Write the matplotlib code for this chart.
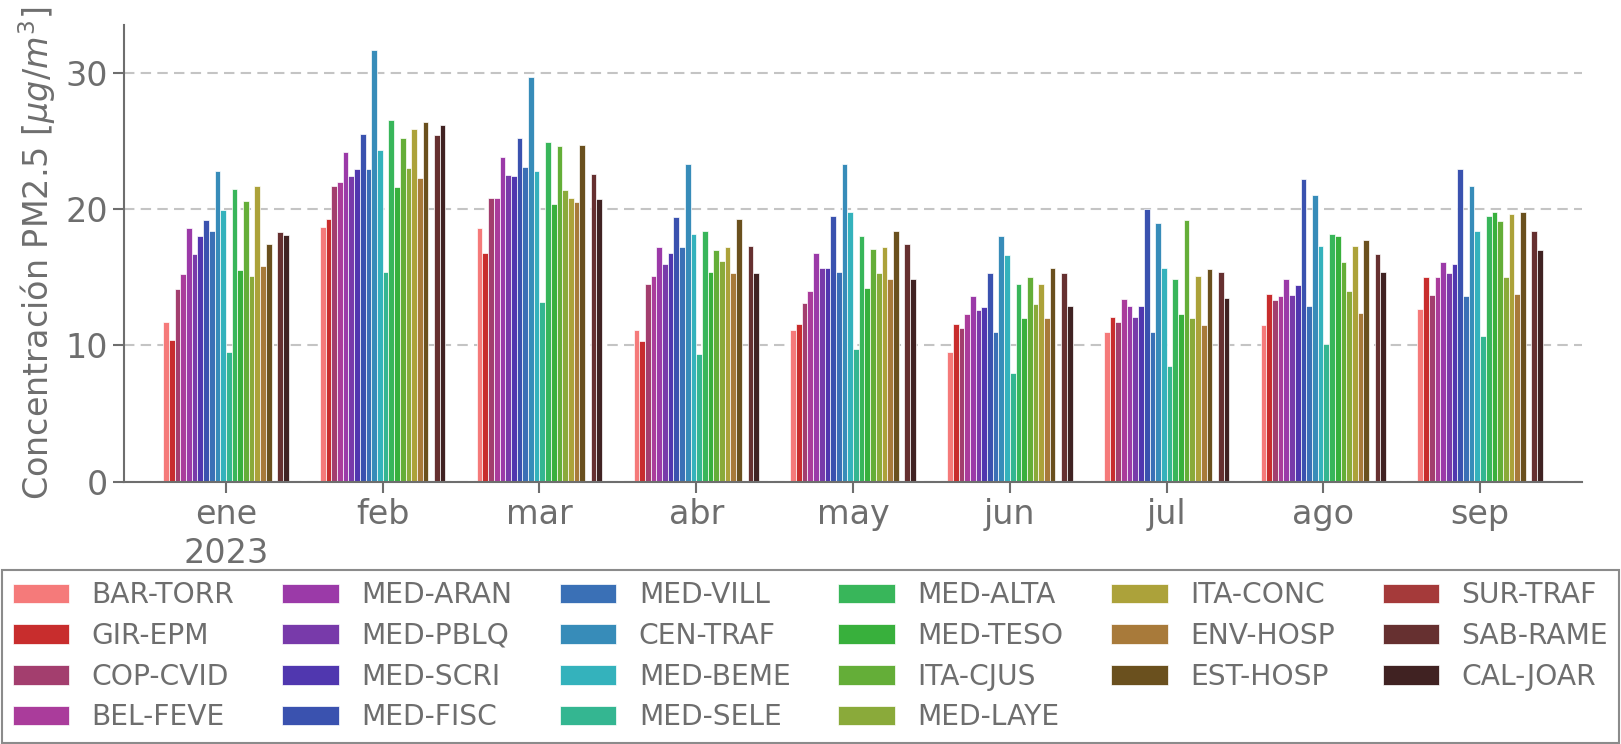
import matplotlib
matplotlib.use("Agg")
import matplotlib.pyplot as plt
import numpy as np

# Monthly PM2.5 mean per station, ene-sep 2023
months = ["ene\n2023", "feb", "mar", "abr", "may", "jun", "jul", "ago", "sep"]

stations = ["BAR-TORR", "GIR-EPM", "COP-CVID", "BEL-FEVE", "MED-ARAN", "MED-PBLQ",
            "MED-SCRI", "MED-FISC", "MED-VILL", "CEN-TRAF", "MED-BEME", "MED-SELE",
            "MED-ALTA", "MED-TESO", "ITA-CJUS", "MED-LAYE", "ITA-CONC", "ENV-HOSP",
            "EST-HOSP", "SUR-TRAF", "SAB-RAME", "CAL-JOAR"]

colors = ["#f57a7a", "#c82d2d", "#a33e6e", "#aa3c9b", "#9b3aa8", "#783aaa",
          "#5037af", "#3a52af", "#3a70b6", "#378cb9", "#34b2bc", "#34b691",
          "#38b65a", "#38b03c", "#64ae38", "#8aaa3a", "#aca23a", "#a87a3a",
          "#6a501e", "#a53a3a", "#663030", "#402222"]

nan = np.nan
# one row per month, one column per station (SUR-TRAF has no data)
ene = [11.7, 10.4, 14.1, 15.2, 18.6, 16.7, 18.0, 19.2, 18.4, 22.8, 19.9, 9.5,
       21.5, 15.5, 20.6, 15.1, 21.7, 15.8, 17.4, nan, 18.3, 18.1]
feb = [18.7, 19.3, 21.7, 22.0, 24.2, 22.4, 22.9, 25.5, 22.9, 31.7, 24.3, 15.4,
       26.5, 21.6, 25.2, 23.0, 25.9, 22.3, 26.4, nan, 25.4, 26.2]
mar = [18.6, 16.8, 20.8, 20.8, 23.8, 22.5, 22.4, 25.2, 23.1, 29.7, 22.8, 13.2,
       24.9, 20.4, 24.6, 21.4, 20.8, 20.5, 24.7, nan, 22.6, 20.7]
abr = [11.1, 10.3, 14.5, 15.1, 17.2, 16.0, 16.8, 19.4, 17.2, 23.3, 18.2, 9.4,
       18.4, 15.4, 17.0, 16.2, 17.2, 15.3, 19.3, nan, 17.3, 15.3]
may = [11.1, 11.6, 13.1, 14.0, 16.8, 15.7, 15.7, 19.5, 15.4, 23.3, 19.8, 9.7,
       18.0, 14.2, 17.1, 15.3, 17.2, 14.9, 18.4, nan, 17.4, 14.9]
jun = [9.5, 11.6, 11.3, 12.3, 13.6, 12.6, 12.8, 15.3, 11.0, 18.0, 16.6, 8.0,
       14.5, 12.0, 15.0, 13.0, 14.5, 12.0, 15.7, nan, 15.3, 12.9]
jul = [11.0, 12.1, 11.7, 13.4, 12.9, 12.1, 12.9, 20.0, 11.0, 19.0, 15.7, 8.5,
       14.9, 12.3, 19.2, 12.0, 15.1, 11.5, 15.6, nan, 15.4, 13.5]
ago = [11.5, 13.8, 13.3, 13.6, 14.9, 13.7, 14.4, 22.2, 12.9, 21.0, 17.3, 10.1,
       18.2, 18.0, 16.1, 14.0, 17.3, 12.4, 17.7, nan, 16.7, 15.4]
sep = [12.7, 15.0, 13.7, 15.0, 16.1, 15.3, 16.0, 22.9, 13.6, 21.7, 18.4, 10.7,
       19.5, 19.8, 19.1, 15.0, 19.6, 13.8, 19.8, nan, 18.4, 17.0]

data = np.array([ene, feb, mar, abr, may, jun, jul, ago, sep])

gray = "#6e6e6e"
plt.rcParams["font.family"] = ["DejaVu Sans"]

fig = plt.figure(figsize=(16.21, 7.44), dpi=100)
ax = fig.add_axes([0.0765, 0.3526, 0.8995, 0.6138])

x = np.arange(len(months))
n = len(stations)
group = 0.8
w = group / n
for i, name in enumerate(stations):
    ax.bar(x - group / 2 + (i + 0.5) * w, data[:, i], width=w, color=colors[i],
           edgecolor="white", linewidth=0.5, label=name)

ax.set_xlim(-0.65, 8.65)
ax.set_ylim(0, 33.5)
ax.set_yticks([0, 10, 20, 30])
ax.set_xticks(x)
ax.set_xticklabels(months, linespacing=1.25)
ax.yaxis.grid(True, linestyle=(0, (5, 3)), color="#c4c4c4", linewidth=1.5)
ax.set_axisbelow(True)

for side in ["top", "right"]:
    ax.spines[side].set_visible(False)
for side in ["left", "bottom"]:
    ax.spines[side].set_color(gray)
    ax.spines[side].set_linewidth(1.5)
ax.tick_params(colors=gray, labelsize=24, length=8, width=1.5)
ax.set_ylabel(r"Concentración PM2.5 [$\mu g/m^3$]", fontsize=24, color=gray)
ax.yaxis.set_label_coords(-0.045, 0.5)

leg = fig.legend(loc="lower left", bbox_to_anchor=(0.001, 0.002, 0.998, 0.228),
                 mode="expand", ncol=6, fontsize=20.25, frameon=True,
                 fancybox=False, labelspacing=0.45, borderaxespad=0)
leg.get_frame().set_edgecolor(gray)
leg.get_frame().set_linewidth(1.5)
for t in leg.get_texts():
    t.set_color(gray)

fig.savefig("out.png", dpi=100)
